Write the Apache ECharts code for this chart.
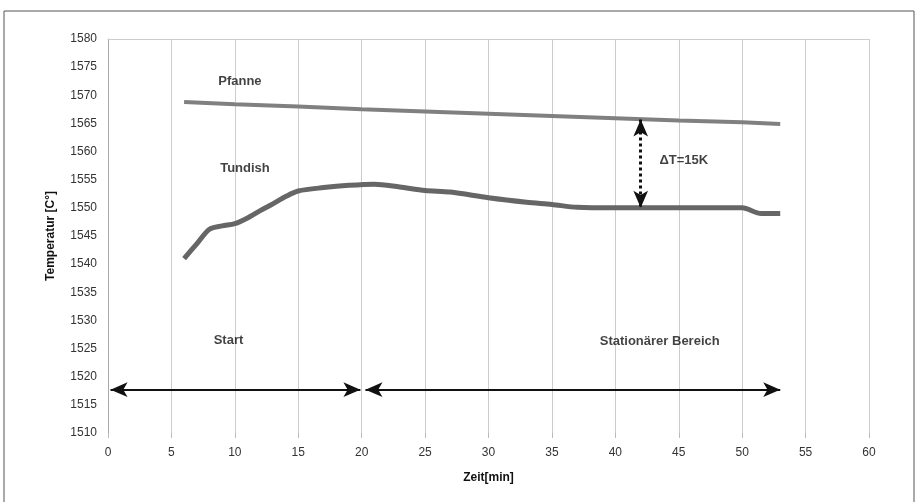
<!DOCTYPE html>
<html>
<head>
<meta charset="utf-8">
<script src="https://cdn.jsdelivr.net/npm/echarts@6/dist/echarts.min.js"></script>
<style>
  html, body { margin: 0; padding: 0; background: #fff; }
  #main { width: 918px; height: 502px; }
</style>
</head>
<body>
<div id="main"></div>
<script>
 // Messwerte
 var pfanne = [
     [6, 1568.8], [10, 1568.4], [15, 1568.0], [20, 1567.5], [25, 1567.1],
     [30, 1566.7], [35, 1566.3], [40, 1565.9], [45, 1565.5], [50, 1565.2], [53, 1564.9]
 ];
 var tundish = [
     [6, 1541], [7, 1543.6], [8, 1546.2], [9, 1546.8], [10, 1547.2], [11, 1548.2],
     [12, 1549.5], [13, 1550.7], [14, 1552], [15, 1553], [17, 1553.6], [19, 1554],
     [21, 1554.2], [23, 1553.7], [25, 1553.1], [27, 1552.8], [30, 1551.8], [33, 1551],
     [35, 1550.6], [37, 1550.1], [40, 1550], [45, 1550], [50, 1550], [51.5, 1549], [53, 1549]
 ];
 // Beschriftungen [x, y, text]
 var labels = [
     [10.4, 1572.5, 'Pfanne'],
     [10.8, 1557, 'Tundish'],
     [9.5, 1526.5, 'Start'],
     [43.5, 1526.2, 'Stationärer Bereich'],
     [45.4, 1558.5, 'ΔT=15K']
 ];
 // Pfeile
 var startArrow = [[0.2, 1517.7], [19.9, 1517.7]];
 var statArrow = [[20.3, 1517.7], [53, 1517.7]];
 var deltaArrow = [[42, 1565.7], [42, 1550]];

 var font = 'Liberation Sans, Arial, sans-serif';

 var chart = echarts.init(document.getElementById('main'));
 chart.setOption({
     animation: false,
     grid: { left: 108, right: 49, top: 39, bottom: 69 },
     graphic: [{
         type: 'rect',
         shape: { x: 4, y: 11, width: 910, height: 500 },
         style: { fill: 'none', stroke: '#555', lineWidth: 1 }
     }],
     xAxis: [{
         type: 'value', min: 0, max: 60, interval: 5,
         name: 'Zeit[min]', nameLocation: 'middle', nameGap: 39,
         nameTextStyle: { fontFamily: font, fontWeight: 'bold', fontSize: 12, color: '#111' },
         axisLine: { show: false },
         axisTick: { show: true, length: 5, lineStyle: { color: '#bbb' } },
         axisLabel: { fontFamily: font, fontSize: 12, color: '#333', margin: 14 },
         splitLine: { show: true, lineStyle: { color: '#ccc', width: 1 } }
     }, {
         type: 'value', min: 0, max: 60, interval: 5, position: 'top',
         axisLine: { show: true, lineStyle: { color: '#ccc' } },
         axisTick: { show: false }, axisLabel: { show: false }, splitLine: { show: false }
     }],
     yAxis: {
         type: 'value', min: 1510, max: 1580, interval: 5,
         name: 'Temperatur [C°]', nameLocation: 'middle', nameGap: 51,
         nameTextStyle: { fontFamily: font, fontWeight: 'bold', fontSize: 12, color: '#111' },
         axisLine: { show: true, lineStyle: { color: '#aaa' } },
         axisTick: { show: false },
         axisLabel: { fontFamily: font, fontSize: 12, color: '#333', margin: 11,
             formatter: function (v) { return String(v); } },
         splitLine: { show: false }
     },
     series: [{
         name: 'Pfanne', type: 'line', data: pfanne, showSymbol: false,
         lineStyle: { color: '#808080', width: 4 }
     }, {
         name: 'Tundish', type: 'line', data: tundish, showSymbol: false, smooth: 0.3,
         lineStyle: { color: '#666', width: 5 }
     }, {
         type: 'scatter', symbolSize: 1, silent: true,
         itemStyle: { color: 'rgba(0,0,0,0)' },
         data: labels,
         label: {
             show: true, position: 'top', distance: -7,
             formatter: function (p) { return p.value[2]; },
             fontFamily: font, fontWeight: 'bold', fontSize: 13, color: '#111'
         },
         markLine: {
             silent: true, symbol: ['arrow', 'arrow'], symbolSize: [11, 17],
             label: { show: false },
             lineStyle: { color: '#111', width: 2, type: 'solid' },
             data: [
                 [{ coord: startArrow[0] }, { coord: startArrow[1] }],
                 [{ coord: statArrow[0] }, { coord: statArrow[1] }],
                 [{ coord: deltaArrow[0], lineStyle: { type: [3, 3], width: 3 } },
                  { coord: deltaArrow[1] }]
             ]
         }
     }]
 });
</script>
</body>
</html>
